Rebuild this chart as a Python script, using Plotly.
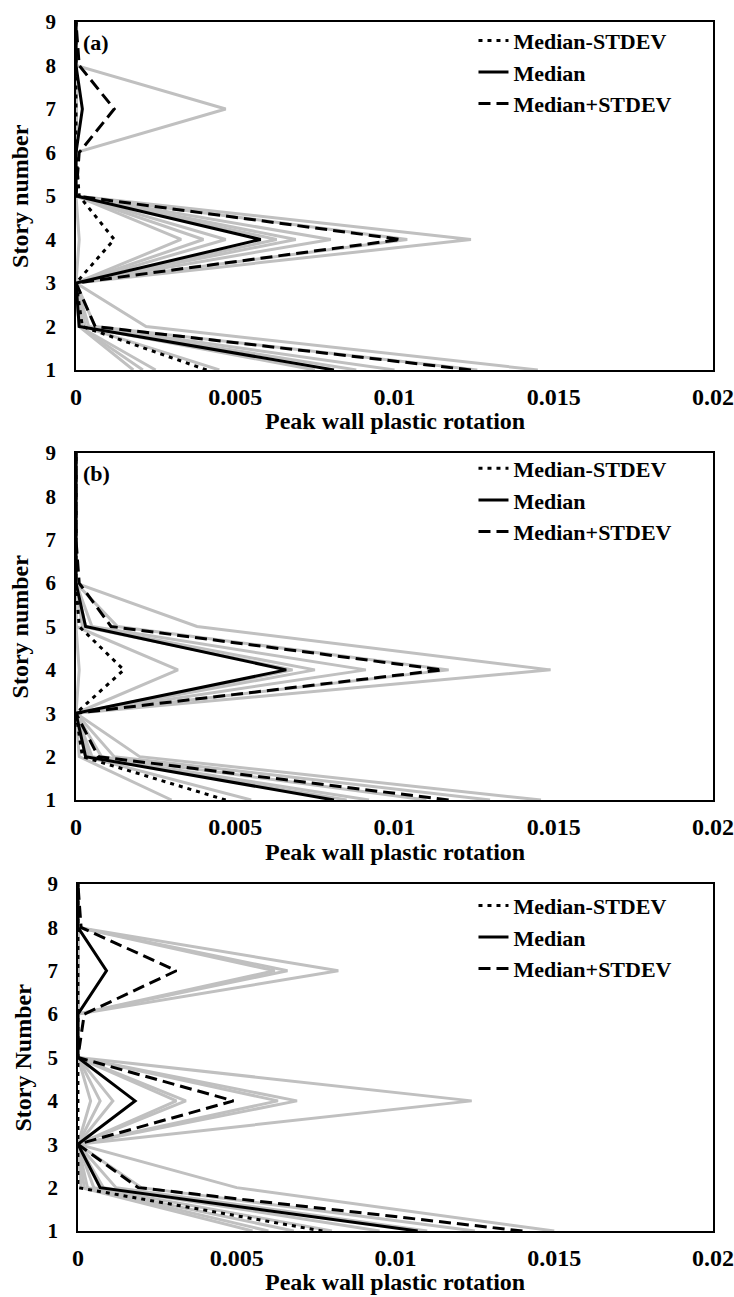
import plotly.graph_objects as go

# story levels (y) shared by all three panels
stories = [1, 2, 3, 4, 5, 6, 7, 8, 9]
x_ticks = [0, 0.005, 0.01, 0.015, 0.02]
x_tick_text = ["0", "0.005", "0.01", "0.015", "0.02"]
y_ticks = [1, 2, 3, 4, 5, 6, 7, 8, 9]
legend_names = ["Median-STDEV", "Median", "Median+STDEV"]
y_titles = ["Story number", "Story number", "Story Number"]
x_title = "Peak wall plastic rotation"
panel_labels = ["(a)", "(b)", ""]

# panel (a): peak wall plastic rotation per story
minus_a = [0.0041, 0.0002, 0, 0.0012, 0.0001, 0, 0, 0, 0]
median_a = [0.0081, 0.0001, 0, 0.0058, 0, 0, 0.0002, 0, 0]
plus_a = [0.0124, 0.0006, 0, 0.0102, 0, 0.0001, 0.0012, 0.0001, 0]
records_a = [
    [0.0145, 0.0022, 0, 0.0124, 0, 0, 0.0047, 0, 0],
    [0.0126, 0.0006, 0, 0.0104, 0, 0, 0, 0, 0],
    [0.0100, 0.0004, 0, 0.0080, 0, 0, 0, 0, 0],
    [0.0088, 0.0003, 0, 0.0069, 0, 0, 0, 0, 0],
    [0.0075, 0.0002, 0, 0.0063, 0, 0, 0, 0, 0],
    [0.0045, 0.0002, 0, 0.0047, 0, 0, 0, 0, 0],
    [0.0025, 0.0001, 0, 0.0040, 0, 0, 0, 0, 0],
    [0.0021, 0.0001, 0, 0.0033, 0, 0, 0, 0, 0],
    [0.0018, 0.0001, 0, 0.0001, 0, 0, 0, 0, 0],
]

# panel (b)
minus_b = [0.0047, 0.0002, 0, 0.0015, 0.0001, 0, 0, 0, 0]
median_b = [0.0081, 0.0003, 0, 0.0066, 0.0003, 0, 0, 0, 0]
plus_b = [0.0117, 0.0007, 0, 0.0115, 0.0011, 0.0001, 0, 0, 0]
records_b = [
    [0.0146, 0.0020, 0, 0.0149, 0.0038, 0, 0, 0, 0],
    [0.0130, 0.0012, 0, 0.0117, 0.0013, 0, 0, 0, 0],
    [0.0110, 0.0008, 0, 0.0091, 0.0005, 0, 0, 0, 0],
    [0.0092, 0.0005, 0, 0.0075, 0.0003, 0, 0, 0, 0],
    [0.0085, 0.0004, 0, 0.0068, 0.0002, 0, 0, 0, 0],
    [0.0055, 0.0003, 0, 0.0032, 0, 0, 0, 0, 0],
    [0.0030, 0.0001, 0, 0.0001, 0, 0, 0, 0, 0],
]

# panel (c)
minus_c = [0.0077, 0, 0, 0, 0, 0, 0, 0, 0]
median_c = [0.0107, 0.0007, 0, 0.0018, 0, 0, 0.0009, 0, 0]
plus_c = [0.0140, 0.0019, 0, 0.0049, 0, 0.0002, 0.0031, 0.0001, 0]
records_c = [
    [0.0150, 0.0050, 0, 0.0124, 0, 0, 0.0082, 0, 0],
    [0.0125, 0.0020, 0, 0.0069, 0, 0, 0.0066, 0, 0],
    [0.0110, 0.0012, 0, 0.0063, 0, 0, 0.0062, 0, 0],
    [0.0095, 0.0008, 0, 0.0034, 0, 0, 0, 0, 0],
    [0.0080, 0.0005, 0, 0.0031, 0, 0, 0, 0, 0],
    [0.0068, 0.0003, 0, 0.0011, 0, 0, 0, 0, 0],
    [0.0060, 0.0002, 0, 0.0007, 0, 0, 0, 0, 0],
    [0.0055, 0.0001, 0, 0.0004, 0, 0, 0, 0, 0],
]

panels = [
    (records_a, minus_a, median_a, plus_a),
    (records_b, minus_b, median_b, plus_b),
    (records_c, minus_c, median_c, plus_c),
]

FONT = "Liberation Serif"
GREY = "#c0c0c0"
styles = ["4px,5px", "solid", "12px,6px"]

y_domains = [[0.7122, 1.0], [0.3565, 0.6435], [0.0, 0.287]]
x_domains = [[0.0, 1.0], [0.0, 1.0], [0.003, 1.0]]
legend_y = [1.002, 0.6480, 0.2865]
x_title_y = [-0.147, -0.150, -0.146]

fig = go.Figure()

for i, (records, minus, median, plus) in enumerate(panels):
    sfx = "" if i == 0 else str(i + 1)
    xa, ya = "x" + sfx, "y" + sfx
    leg = "legend" + sfx
    for rec in records:
        fig.add_trace(go.Scatter(x=rec, y=stories, mode="lines", xaxis=xa, yaxis=ya,
                                 line=dict(color=GREY, width=3), showlegend=False,
                                 hoverinfo="skip"))
    for name, vals, dash in zip(legend_names, [minus, median, plus], styles):
        fig.add_trace(go.Scatter(x=vals, y=stories, mode="lines", name=name,
                                 xaxis=xa, yaxis=ya, legend=leg,
                                 line=dict(color="black", width=3, dash=dash)))

    axis_common = dict(showgrid=False, zeroline=False, showline=True, linecolor="black",
                       linewidth=1.5, mirror=True, ticks="", automargin=False)
    fig.layout["xaxis" + sfx] = dict(axis_common, domain=x_domains[i], range=[0, 0.02],
                                     tickvals=x_ticks, ticktext=x_tick_text,
                                     anchor=ya, ticklabelstandoff=4,
                                     ticklabeloverflow="allow",
                                     tickfont=dict(family=FONT, size=24, color="black",
                                                   weight="bold"))
    fig.layout["yaxis" + sfx] = dict(axis_common, domain=y_domains[i], range=[1, 9],
                                     tickvals=y_ticks, anchor=xa, ticklabelstandoff=14,
                                     tickfont=dict(family=FONT, size=21, color="black",
                                                   weight="bold"))
    fig.layout[leg] = dict(x=0.624, y=legend_y[i], xanchor="left", yanchor="top",
                           bgcolor="rgba(0,0,0,0)",
                           font=dict(family=FONT, size=22, color="black", weight="bold"))

    # axis titles and panel label
    fig.add_annotation(text=x_title, xref=xa + " domain", yref=ya + " domain",
                       x=0.5, y=x_title_y[i], xanchor="center", yanchor="middle",
                       showarrow=False,
                       font=dict(family=FONT, size=24, color="black", weight="bold"))
    fig.add_annotation(text=y_titles[i], xref=xa + " domain", yref=ya + " domain",
                       x=-0.088, y=0.5, xanchor="center", yanchor="middle", showarrow=False,
                       textangle=-90,
                       font=dict(family=FONT, size=24, color="black", weight="bold"))
    if panel_labels[i]:
        fig.add_annotation(text=panel_labels[i], xref=xa + " domain", yref=ya + " domain",
                           x=0.008, y=0.94, xanchor="left", yanchor="middle", showarrow=False,
                           font=dict(family=FONT, size=22, color="black", weight="bold"))

fig.update_layout(width=734, height=1297, margin=dict(l=76, r=21, t=22, b=66),
                  plot_bgcolor="white", paper_bgcolor="white",
                  font=dict(family=FONT, color="black"))

# drop the default page margin so the figure fills the window exactly
fig.write_html("out.html", config={"displayModeBar": False},
               post_script="document.body.style.margin='0';document.body.style.overflow='hidden';")
